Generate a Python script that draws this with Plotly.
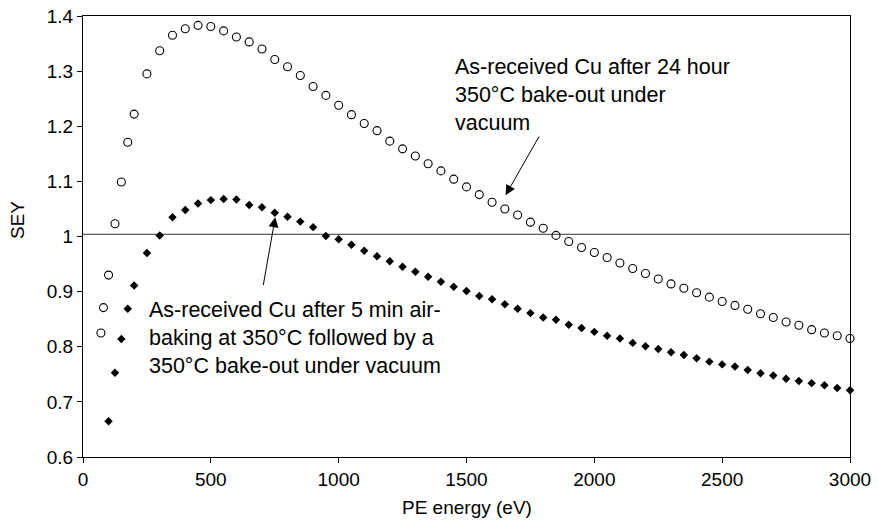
import plotly.graph_objects as go

# ---- data ----
energy_bakeout = [70, 80, 100, 125, 150, 175, 200, 250, 300, 350, 400, 450, 500, 550, 600, 650,
                  700, 750, 800, 850, 900, 950, 1000, 1050, 1100, 1150, 1200, 1250, 1300, 1350,
                  1400, 1450, 1500, 1550, 1600, 1650, 1700, 1750, 1800, 1850, 1900, 1950, 2000,
                  2050, 2100, 2150, 2200, 2250, 2300, 2350, 2400, 2450, 2500, 2550, 2600, 2650,
                  2700, 2750, 2800, 2850, 2900, 2950, 3000]
sey_bakeout = [0.825, 0.871, 0.930, 1.023, 1.099, 1.171, 1.222, 1.295, 1.337, 1.365, 1.377, 1.383,
               1.381, 1.373, 1.362, 1.353, 1.340, 1.321, 1.308, 1.292, 1.272, 1.256, 1.238, 1.221,
               1.205, 1.192, 1.173, 1.159, 1.146, 1.132, 1.119, 1.104, 1.090, 1.076, 1.062, 1.050,
               1.039, 1.026, 1.015, 1.002, 0.991, 0.980, 0.971, 0.962, 0.952, 0.942, 0.933, 0.923,
               0.914, 0.906, 0.898, 0.890, 0.882, 0.875, 0.868, 0.860, 0.853, 0.845, 0.839, 0.831,
               0.825, 0.820, 0.815]

energy_airbake = [100, 125, 150, 175, 200, 250, 300, 350, 400, 450, 500, 550, 600, 650, 700, 750,
                  800, 850, 900, 950, 1000, 1050, 1100, 1150, 1200, 1250, 1300, 1350, 1400, 1450,
                  1500, 1550, 1600, 1650, 1700, 1750, 1800, 1850, 1900, 1950, 2000, 2050, 2100,
                  2150, 2200, 2250, 2300, 2350, 2400, 2450, 2500, 2550, 2600, 2650, 2700, 2750,
                  2800, 2850, 2900, 2950, 3000]
sey_airbake = [0.665, 0.753, 0.814, 0.869, 0.911, 0.970, 1.002, 1.035, 1.048, 1.060, 1.066, 1.068,
               1.067, 1.057, 1.053, 1.043, 1.036, 1.027, 1.017, 1.001, 0.995, 0.985, 0.974, 0.964,
               0.955, 0.945, 0.936, 0.927, 0.918, 0.909, 0.901, 0.892, 0.886, 0.877, 0.869, 0.861,
               0.853, 0.849, 0.840, 0.834, 0.827, 0.820, 0.815, 0.807, 0.801, 0.796, 0.790, 0.785,
               0.779, 0.773, 0.768, 0.764, 0.758, 0.752, 0.748, 0.742, 0.738, 0.734, 0.730, 0.725,
               0.721]

ref_line_x = [0, 3000]
ref_line_y = [1.004, 1.004]

x_ticks = [0, 500, 1000, 1500, 2000, 2500, 3000]
y_ticks = [0.6, 0.7, 0.8, 0.9, 1.0, 1.1, 1.2, 1.3, 1.4]
y_tick_text = ["0.6", "0.7", "0.8", "0.9", "1", "1.1", "1.2", "1.3", "1.4"]

label_bakeout = "As-received Cu after 24 hour<br>350°C bake-out under<br>vacuum"
label_airbake = ("As-received Cu after 5 min air-<br>baking at 350°C followed by a<br>"
                 "350°C bake-out under vacuum")

FONT = "Arial, 'Liberation Sans', sans-serif"
W, H = 878, 529
ML, MR, MT, MB = 83, 28, 16, 72

fig = go.Figure()
fig.add_trace(go.Scatter(x=ref_line_x, y=ref_line_y, mode="lines",
                         line=dict(color="#333333", width=1), hoverinfo="skip",
                         showlegend=False))
fig.add_trace(go.Scatter(x=energy_bakeout, y=sey_bakeout, mode="markers",
                         marker=dict(symbol="circle-open", size=8, color="black",
                                     line=dict(width=1.1, color="black")),
                         cliponaxis=False, showlegend=False))
fig.add_trace(go.Scatter(x=energy_airbake, y=sey_airbake, mode="markers",
                         marker=dict(symbol="diamond", size=6.5, color="black",
                                     line=dict(width=0)),
                         cliponaxis=False, showlegend=False))

# text labels
fig.add_annotation(x=1448, y=1.2566, xref="x", yref="y", text=label_bakeout,
                   showarrow=False, xanchor="left", yanchor="middle", align="left",
                   font=dict(family=FONT, size=21.5, color="black"))
fig.add_annotation(x=250, y=0.815, xref="x", yref="y", text=label_airbake,
                   showarrow=False, xanchor="left", yanchor="middle", align="left",
                   font=dict(family=FONT, size=21.5, color="black"))
# arrows
fig.add_annotation(x=1653, y=1.075, ax=1787, ay=1.184, xref="x", yref="y",
                   axref="x", ayref="y", text="", showarrow=True, arrowhead=2,
                   arrowsize=2, arrowwidth=1, arrowcolor="black")
fig.add_annotation(x=752, y=1.035, ax=704, ay=0.909, xref="x", yref="y",
                   axref="x", ayref="y", text="", showarrow=True, arrowhead=2,
                   arrowsize=2, arrowwidth=1, arrowcolor="black")

# axis titles as free text
pw, ph = W - ML - MR, H - MT - MB
fig.add_annotation(x=(18 - ML) / pw, y=(H - MB - 220) / ph, xref="paper", yref="paper",
                   xanchor="center", yanchor="middle",
                   text="SEY", textangle=-90, showarrow=False,
                   font=dict(family=FONT, size=19, color="black"))
fig.add_annotation(x=0.5, y=(H - MB - 508) / ph, xref="paper", yref="paper",
                   xanchor="center", yanchor="middle",
                   text="PE energy (eV)", showarrow=False,
                   font=dict(family=FONT, size=19, color="black"))

fig.update_layout(
    width=W, height=H,
    margin=dict(l=ML, r=MR, t=MT, b=MB, autoexpand=False),
    paper_bgcolor="white", plot_bgcolor="white",
    font=dict(family=FONT, size=19, color="black"),
    showlegend=False,
)
fig.update_xaxes(range=[0, 3000], tickvals=x_ticks, ticks="outside", ticklen=5,
                 tickcolor="black", showline=True, linecolor="black", linewidth=1,
                 mirror=True, showgrid=False, zeroline=False, automargin=False,
                 tickfont=dict(family=FONT, size=19))
fig.update_yaxes(range=[0.6, 1.4], tickvals=y_ticks, ticktext=y_tick_text, ticks="outside",
                 ticklen=5, tickcolor="black", showline=True, linecolor="black", linewidth=1,
                 mirror=True, showgrid=False, zeroline=False, automargin=False,
                 tickfont=dict(family=FONT, size=19))

fig.write_html("out.html", config={"displayModeBar": False},
               post_script="document.body.style.margin='0';document.body.style.overflow='hidden';")
